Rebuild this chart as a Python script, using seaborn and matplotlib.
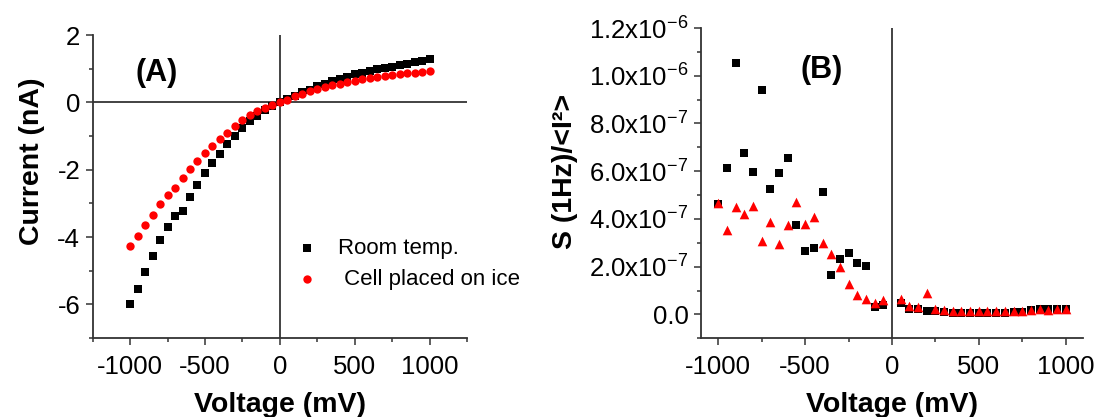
import matplotlib
matplotlib.use("Agg")
import matplotlib.pyplot as plt
import seaborn as sns
import pandas as pd

# ---------------- data ----------------
voltage_a = list(range(-1000, 1001, 50))
current_room = [-6.00, -5.53, -5.05, -4.56, -4.08, -3.70, -3.39, -3.23, -2.80, -2.45,
                -2.10, -1.79, -1.54, -1.24, -1.00, -0.77, -0.56, -0.41, -0.24, -0.12,
                0.00,
                0.10, 0.20, 0.30, 0.38, 0.48, 0.56, 0.63, 0.70, 0.76, 0.83,
                0.88, 0.93, 0.98, 1.02, 1.06, 1.11, 1.15, 1.19, 1.24, 1.30]
current_ice = [-4.27, -3.97, -3.65, -3.35, -3.03, -2.76, -2.54, -2.24, -1.97, -1.74,
               -1.51, -1.29, -1.08, -0.90, -0.70, -0.52, -0.38, -0.27, -0.16, -0.09,
               0.00,
               0.08, 0.19, 0.26, 0.33, 0.40, 0.46, 0.51, 0.56, 0.60, 0.64,
               0.68, 0.71, 0.75, 0.78, 0.81, 0.83, 0.86, 0.88, 0.90, 0.92]

voltage_b = [v for v in range(-1000, 1001, 50) if v != 0]
noise_room_e7 = [4.62, 6.13, 10.53, 6.77, 5.97, 9.41, 5.26, 5.92, 6.56, 3.76,
                 2.67, 2.80, 5.12, 1.65, 2.34, 2.59, 2.17, 2.04, 0.32, 0.39,
                 0.50, 0.24, 0.24, 0.15, 0.13, 0.10, 0.06, 0.08, 0.08, 0.08,
                 0.04, 0.06, 0.06, 0.10, 0.11, 0.18, 0.21, 0.21, 0.21, 0.24]
noise_ice_e7 = [4.69, 3.54, 4.49, 4.20, 4.55, 3.09, 3.86, 2.94, 3.75, 4.73,
                3.78, 4.07, 2.98, 2.53, 2.00, 1.26, 0.81, 0.63, 0.46, 0.60,
                0.63, 0.35, 0.32, 0.91, 0.21, 0.18, 0.15, 0.15, 0.15, 0.15,
                0.13, 0.15, 0.15, 0.15, 0.15, 0.18, 0.21, 0.18, 0.21, 0.22]

series_labels = ["Room temp.", " Cell placed on ice"]
xticks = [-1000, -500, 0, 500, 1000]
xtick_labels = ["-1000", "-500", "0", "500", "1000"]
yticks_a = [2, 0, -2, -4, -6]
ytick_labels_a = ["2", "0", "-2", "-4", "-6"]
yticks_b = [0.0, 2e-7, 4e-7, 6e-7, 8e-7, 1.0e-6, 1.2e-6]
ytick_labels_b = ["0.0", "2.0x10$^{-7}$", "4.0x10$^{-7}$", "6.0x10$^{-7}$",
                  "8.0x10$^{-7}$", "1.0x10$^{-6}$", "1.2x10$^{-6}$"]

df_a = pd.DataFrame({"V": voltage_a, "room": current_room, "ice": current_ice})
df_b = pd.DataFrame({"V": voltage_b,
                     "room": [v * 1e-7 for v in noise_room_e7],
                     "ice": [v * 1e-7 for v in noise_ice_e7]})

# ---------------- style ----------------
sns.set_style("ticks")
plt.rcParams["font.family"] = ["Liberation Sans", "DejaVu Sans"]
plt.rcParams["mathtext.fontset"] = "custom"
plt.rcParams["mathtext.rm"] = "Liberation Sans"
plt.rcParams["mathtext.it"] = "Liberation Sans:italic"
plt.rcParams["mathtext.bf"] = "Liberation Sans:bold"
plt.rcParams["axes.unicode_minus"] = False
plt.rcParams["text.color"] = "black"
plt.rcParams["axes.labelcolor"] = "black"
plt.rcParams["xtick.labelcolor"] = "black"
plt.rcParams["ytick.labelcolor"] = "black"

fig = plt.figure(figsize=(10.98, 4.17), dpi=100)
ax_a = fig.add_axes([0.0844, 0.1894, 0.3409, 0.7266])
ax_b = fig.add_axes([0.6384, 0.1887, 0.3479, 0.7441])

TICK_FS = 18.5
LABEL_FS = 20.5

def style_axes(ax):
    for s in ["top", "right"]:
        ax.spines[s].set_visible(False)
    for s in ["left", "bottom"]:
        ax.spines[s].set_color("#333333")
        ax.spines[s].set_linewidth(1.3)
    ax.tick_params(axis="both", which="major", direction="out", length=5, width=1.1,
                   color="#333333", labelcolor="black", labelsize=TICK_FS, pad=4)
    ax.tick_params(axis="x", which="major", pad=7)
    ax.tick_params(axis="both", which="minor", direction="out", length=3, width=1.1,
                   color="#333333")

# ---------------- panel A ----------------
sns.scatterplot(data=df_a, x="V", y="room", ax=ax_a, marker="s", color="black",
                s=30, linewidth=0, label=series_labels[0], zorder=3)
sns.scatterplot(data=df_a, x="V", y="ice", ax=ax_a, marker="o", color="red",
                s=36, linewidth=0, label=series_labels[1], zorder=4)
ax_a.set_xlim(-1250, 1250)
ax_a.set_ylim(-7, 2)
ax_a.axvline(0, color="#222222", lw=1.2, zorder=2)
ax_a.axhline(0, color="#222222", lw=1.2, zorder=2)
style_axes(ax_a)
ax_a.set_xticks(xticks)
ax_a.set_xticklabels(xtick_labels)
ax_a.set_xticks([-1250, -750, -250, 250, 750, 1250], minor=True)
ax_a.set_yticks(yticks_a)
ax_a.set_yticklabels(ytick_labels_a)
ax_a.set_yticks([1, -1, -3, -5, -7], minor=True)
ax_a.set_xlabel("Voltage (mV)", fontsize=LABEL_FS, fontweight="bold", color="black")
ax_a.set_ylabel("Current (nA)", fontsize=LABEL_FS, fontweight="bold", color="black")
ax_a.xaxis.set_label_coords(0.5, -0.178)
ax_a.yaxis.set_label_coords(-0.128, 0.584)
ax_a.text(0.17, 0.875, "(A)", transform=ax_a.transAxes, fontsize=22,
          fontweight="bold", ha="center", va="center", color="black")
leg = ax_a.legend(loc="upper left", bbox_to_anchor=(0.52, 0.36), frameon=False,
                  fontsize=16, handlelength=1.0, handletextpad=0.9,
                  labelspacing=0.45, borderaxespad=0, markerscale=1.0)
for t in leg.get_texts():
    t.set_color("black")

# ---------------- panel B ----------------
sns.scatterplot(data=df_b, x="V", y="room", ax=ax_b, marker="s", color="black",
                s=40, linewidth=0, zorder=3)
sns.scatterplot(data=df_b, x="V", y="ice", ax=ax_b, marker="^", color="red",
                s=48, linewidth=0, zorder=4)
ax_b.set_xlim(-1100, 1100)
ax_b.set_ylim(-1e-7, 1.2e-6)
ax_b.axvline(0, color="#222222", lw=1.2, zorder=2)
style_axes(ax_b)
ax_b.set_xticks(xticks)
ax_b.set_xticklabels(xtick_labels)
ax_b.set_xticks([-750, -250, 250, 750], minor=True)
ax_b.set_yticks(yticks_b)
ax_b.set_yticklabels(ytick_labels_b)
ax_b.set_yticks([-1e-7, 1e-7, 3e-7, 5e-7, 7e-7, 9e-7, 1.1e-6], minor=True)
ax_b.set_xlabel("Voltage (mV)", fontsize=LABEL_FS, fontweight="bold", color="black")
ax_b.set_ylabel("S (1Hz)/<I²>", fontsize=LABEL_FS, fontweight="bold", color="black")
ax_b.xaxis.set_label_coords(0.5, -0.174)
ax_b.yaxis.set_label_coords(-0.322, 0.5375)
ax_b.text(0.317, 0.865, "(B)", transform=ax_b.transAxes, fontsize=22,
          fontweight="bold", ha="center", va="center", color="black")

fig.savefig("out.png", dpi=100)
